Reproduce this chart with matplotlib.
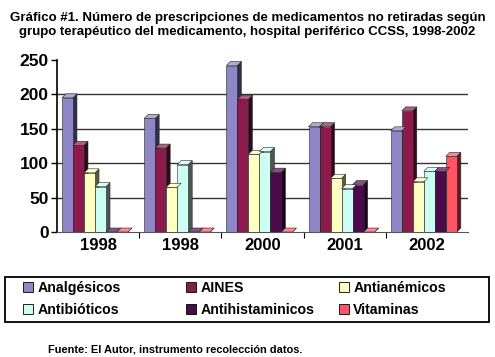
"""Grafico de barras (estilo 3D) de prescripciones no retiradas por grupo terapeutico."""

import numpy as np
import matplotlib

matplotlib.use("Agg")
import matplotlib.pyplot as plt
from matplotlib.patches import Polygon, Patch, Rectangle
import matplotlib.colors as mcolors

plt.rcParams["font.family"] = ["Liberation Sans", "DejaVu Sans"]
plt.rcParams["font.weight"] = "bold"

# Datos
years = ["1998", "1998", "2000", "2001", "2002"]
groups = ["Analgésicos", "AINES", "Antianémicos", "Antibióticos", "Antihistaminicos", "Vitaminas"]
analgesicos = [195, 165, 242, 153, 147]
aines = [126, 122, 193, 153, 176]
antianemicos = [86, 65, 113, 78, 73]
antibioticos = [66, 98, 117, 63, 88]
antihistaminicos = [0, 0, 87, 69, 88]
vitaminas = [0, 0, 0, 0, 110]

series = [analgesicos, aines, antianemicos, antibioticos, antihistaminicos, vitaminas]
colors = ["#8F86C6", "#8C1A4C", "#FFFFC2", "#CCFFF2", "#4C0A4C", "#FF5464"]

fig = plt.figure(figsize=(4.95, 3.57), dpi=100)
ax = fig.add_axes([57 / 495, 125 / 357, 411 / 495, 172 / 357])

x = np.arange(len(years))
bar_w = 0.134
start = -0.44
# profundidad del efecto 3D en unidades de datos (aprox. 4 px)
dx = 4 / 82
dy = 4 / 0.688


def shade(c, f):
    r, g, b = mcolors.to_rgb(c)
    if f < 1:
        return (r * f, g * f, b * f)
    return (r + (1 - r) * (f - 1), g + (1 - g) * (f - 1), b + (1 - b) * (f - 1))


ax.set_xlim(-0.5, 4.5)
ax.set_ylim(0, 250)

yt = [0, 50, 100, 150, 200, 250]
for v in yt[1:-1]:
    ax.axhline(v, color="#333333", lw=1.0, zorder=0)

for i, (vals, c) in enumerate(zip(series, colors)):
    left = x + start + i * bar_w
    ax.bar(left, vals, width=bar_w, align="edge", color=c,
           edgecolor="#222222", linewidth=0.4, zorder=3)
    for l, h in zip(left, vals):
        r = l + bar_w
        side = Polygon([(r, 0), (r + dx, dy), (r + dx, h + dy), (r, h)],
                       closed=True, facecolor=shade(c, 0.35),
                       edgecolor="#222222", lw=0.4, zorder=2.9)
        top = Polygon([(l, h), (l + dx, h + dy), (r + dx, h + dy), (r, h)],
                      closed=True, facecolor=shade(c, 1.3),
                      edgecolor="#222222", lw=0.4, zorder=3.1)
        ax.add_patch(side)
        ax.add_patch(top)

ax.set_yticks(yt)
ax.set_yticklabels([str(v) for v in yt], fontsize=12.5, fontweight="bold")
ax.set_xticks(x)
ax.set_xticklabels(years, fontsize=12, fontweight="bold")
ax.tick_params(axis="x", length=0, pad=4)
ax.tick_params(axis="y", length=4, width=1, direction="out", pad=2)
# marcas entre grupos
ax.set_xticks(np.arange(0.5, 4.5, 1), minor=True)
ax.tick_params(axis="x", which="minor", length=4, width=0.8, direction="out")

for s in ["top", "right"]:
    ax.spines[s].set_visible(False)
ax.spines["left"].set_linewidth(1.2)
ax.spines["bottom"].set_linewidth(0.8)
ax.spines["bottom"].set_color("#555555")

fig.text(0.5, 0.965,
         "Gráfico #1. Número de prescripciones de medicamentos no retiradas según\n"
         "grupo terapéutico del medicamento, hospital periférico CCSS, 1998-2002",
         ha="center", va="top", fontsize=9.5, fontweight="bold", linespacing=1.2)

# Leyenda: marco + tres columnas
frame = Rectangle((5 / 495, 1 - 322 / 357), 484 / 495, 45 / 357,
                  transform=fig.transFigure, facecolor="none",
                  edgecolor="black", linewidth=1.3)
fig.patches.append(frame)

handles = [Patch(facecolor=c, edgecolor="black", linewidth=0.6) for c in colors]
col_x = [23, 186, 339]
columns = [[0, 3], [1, 4], [2, 5]]
for cx, idx in zip(col_x, columns):
    leg = fig.legend([handles[k] for k in idx], [groups[k] for k in idx],
                     loc="upper left", bbox_to_anchor=(cx / 495, 1 - 281 / 357),
                     bbox_transform=fig.transFigure, frameon=False,
                     handlelength=0.7, handleheight=0.7, handletextpad=0.3,
                     borderpad=0.0, borderaxespad=0.0, labelspacing=0.55,
                     prop={"weight": "bold", "size": 10.2})

fig.text(48 / 495, 1 - 349 / 357, "Fuente: El Autor, instrumento recolección datos.",
         ha="left", va="center", fontsize=7.9, fontweight="bold")

fig.savefig("out.png", dpi=100)
